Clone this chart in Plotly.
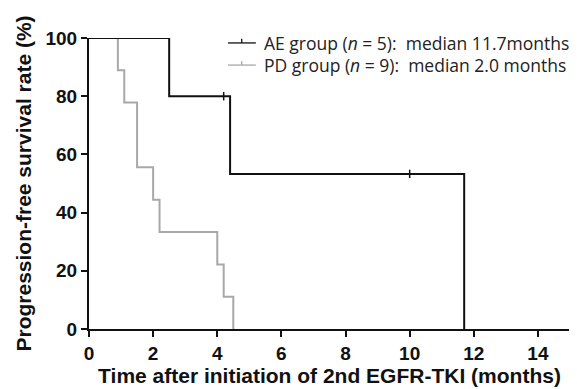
import plotly.graph_objects as go

# AE group (n = 5) Kaplan-Meier step data
ae_time = [0, 2.5, 4.4, 11.7]
ae_surv = [100, 80, 53.3, 0]
ae_cens_time = [4.2, 10.0]
ae_cens_surv = [80, 53.3]

# PD group (n = 9) Kaplan-Meier step data
pd_time = [0, 0.9, 1.1, 1.5, 2.0, 2.2, 4.0, 4.2, 4.5]
pd_surv = [100, 88.9, 77.8, 55.6, 44.4, 33.3, 22.2, 11.1, 0]

x_ticks = [0, 2, 4, 6, 8, 10, 12, 14]
y_ticks = [0, 20, 40, 60, 80, 100]

legend_labels = [
    "AE group (<i>n</i> = 5):  median 11.7months",
    "PD group (<i>n</i> = 9):  median 2.0 months",
]

AE_COLOR = "#111111"
PD_COLOR = "#a8a8a8"

fig = go.Figure()
fig.add_trace(go.Scatter(x=pd_time, y=pd_surv, mode="lines", line_shape="hv",
                         line=dict(color=PD_COLOR, width=2), cliponaxis=False,
                         showlegend=False))
fig.add_trace(go.Scatter(x=ae_time, y=ae_surv, mode="lines", line_shape="hv",
                         line=dict(color=AE_COLOR, width=2), cliponaxis=False,
                         showlegend=False))
fig.add_trace(go.Scatter(x=ae_cens_time, y=ae_cens_surv, mode="markers",
                         marker=dict(symbol="line-ns", size=6,
                                     line=dict(color=AE_COLOR, width=1.5)),
                         cliponaxis=False, showlegend=False))

# manual legend
legend_y = [0.983, 0.907]
legend_colors = [AE_COLOR, PD_COLOR]
for yy, lab, col in zip(legend_y, legend_labels, legend_colors):
    fig.add_shape(type="line", xref="paper", yref="paper",
                  x0=0.289, x1=0.347, y0=yy, y1=yy,
                  line=dict(color=col, width=1.3))
    fig.add_shape(type="line", xref="paper", yref="paper",
                  x0=0.3175, x1=0.3175, y0=yy, y1=yy + 0.014,
                  line=dict(color=col, width=1.3))
    fig.add_annotation(xref="paper", yref="paper", x=0.36, y=yy,
                       xanchor="left", yanchor="middle", text=lab,
                       showarrow=False,
                       font=dict(family="Open Sans", size=17.5, color="#222222"))

tick_font = dict(family="Liberation Sans", size=19, color="#111111", weight="bold")
title_font = dict(family="Liberation Sans", size=21, color="#111111", weight="bold")

axis_common = dict(showline=True, linecolor="#111111", linewidth=2,
                   ticks="outside", ticklen=6, tickwidth=2, tickcolor="#111111",
                   showgrid=False, zeroline=False, automargin=False,
                   tickfont=tick_font)

fig.update_layout(
    width=577, height=389,
    margin=dict(l=81, r=15, t=30, b=68),
    plot_bgcolor="white", paper_bgcolor="white",
    xaxis=dict(range=[0, 15], tickvals=x_ticks, **axis_common,
               title=dict(text="Time after initiation of 2nd EGFR-TKI (months)",
                          font=title_font, standoff=5)),
    yaxis=dict(range=[0, 100], tickvals=y_ticks, **axis_common,
               title=dict(text="Progression-free survival rate (%)",
                          font=title_font, standoff=8)),
)

fig.write_html("out.html")
